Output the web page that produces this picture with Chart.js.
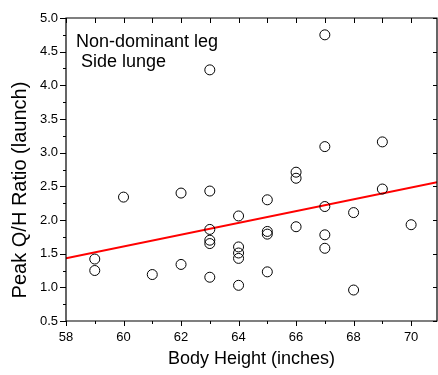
<!DOCTYPE html>
<html>
<head>
<meta charset="utf-8">
<script src="https://cdn.jsdelivr.net/npm/chart.js@4/dist/chart.umd.min.js"></script>
<style>
html,body{margin:0;padding:0;background:#fff;}
#c{display:block;}
</style>
</head>
<body>
<canvas id="c" width="438" height="375"></canvas>
<script>
// ---- data ----
const heights = [59,59,60,61,62,62,63,63,63,63,63,63,64,64,64,64,64,65,65,65,65,66,66,66,67,67,67,67,67,68,68,69,69,70];
const ratios  = [1.42,1.25,2.34,1.19,2.40,1.34,4.23,2.43,1.86,1.70,1.65,1.15,2.06,1.60,1.51,1.43,1.03,2.30,1.83,1.79,1.23,2.71,2.62,1.90,4.75,3.09,2.20,1.78,1.58,2.11,0.96,3.16,2.46,1.93];
const fitX = [58, 70.9];
const fitY = [1.43, 2.56];
const xTickLabels = [58,60,62,64,66,68,70];
const yTickLabels = [0.5,1.0,1.5,2.0,2.5,3.0,3.5,4.0,4.5,5.0];
const annotationLines = ['Non-dominant leg', ' Side lunge'];
const xTitle = 'Body Height (inches)';
const yTitle = 'Peak Q/H Ratio (launch)';

const FONT = '"Liberation Sans", Arial, sans-serif';

const framePlugin = {
  id: 'frame',
  afterDatasetsDraw(chart) {
    const ctx = chart.ctx;
    const a = chart.chartArea;
    const xs = chart.scales.x, ys = chart.scales.y;
    ctx.save();
    ctx.strokeStyle = '#000';
    ctx.lineWidth = 1.2;
    ctx.beginPath();
    ctx.rect(a.left, a.top, a.right - a.left, a.bottom - a.top);
    ctx.stroke();
    ctx.lineWidth = 1;
    ctx.beginPath();
    // bottom (outward) and top (inward) ticks, every inch
    for (let v = xs.min; v <= xs.max + 1e-9; v += 1) {
      const px = Math.round(xs.getPixelForValue(v)) + 0.5;
      const major = xTickLabels.includes(v);
      ctx.moveTo(px, a.bottom); ctx.lineTo(px, a.bottom + (major ? 5 : 3));
      ctx.moveTo(px, a.top); ctx.lineTo(px, a.top + 5);
    }
    // left (outward, major + minor) and right (inward, major) ticks
    for (let i = 0; i <= 18; i++) {
      const v = ys.min + i * 0.25;
      const py = Math.round(ys.getPixelForValue(v)) + 0.5;
      const major = i % 2 === 0;
      ctx.moveTo(a.left, py); ctx.lineTo(a.left - (major ? 6 : 3), py);
      if (major) { ctx.moveTo(a.right, py); ctx.lineTo(a.right - 4, py); }
    }
    ctx.stroke();
    ctx.fillStyle = '#000';
    // annotation text
    ctx.font = '18px ' + FONT;
    ctx.textBaseline = 'alphabetic';
    ctx.textAlign = 'left';
    ctx.fillText(annotationLines[0], 76, 47);
    ctx.fillText(annotationLines[1], 76, 67);
    // y axis title
    ctx.save();
    ctx.translate(20, 190);
    ctx.rotate(-Math.PI / 2);
    ctx.font = '20px ' + FONT;
    ctx.textAlign = 'center';
    ctx.textBaseline = 'middle';
    ctx.fillText(yTitle, 0, 0);
    ctx.restore();
    ctx.restore();
  }
};

new Chart(document.getElementById('c'), {
  type: 'scatter',
  data: {
    datasets: [
      {
        label: 'data',
        data: heights.map((h, i) => ({x: h, y: ratios[i]})),
        pointStyle: 'circle',
        pointRadius: 5,
        pointBorderWidth: 1,
        borderColor: '#000',
        backgroundColor: 'rgba(0,0,0,0)',
        order: 1
      },
      {
        type: 'line',
        label: 'fit',
        data: fitX.map((x, i) => ({x: x, y: fitY[i]})),
        borderColor: '#ff0000',
        borderWidth: 2,
        pointRadius: 0,
        fill: false,
        order: 2
      }
    ]
  },
  options: {
    responsive: false,
    animation: false,
    layout: {autoPadding: false, padding: {top: 18, right: 1, left: 0, bottom: 0}},
    plugins: {legend: {display: false}, tooltip: {enabled: false}},
    scales: {
      x: {
        type: 'linear', min: 58, max: 70.9,
        grid: {display: false, drawTicks: false},
        border: {display: false},
        afterBuildTicks: s => { s.ticks = xTickLabels.map(v => ({value: v})); },
        afterFit: s => { s.height = 54; s.paddingLeft = 0; s.paddingRight = 0; },
        ticks: {font: {size: 13, family: FONT}, color: '#000', padding: 9, maxRotation: 0, callback: v => String(v)},
        title: {display: true, text: xTitle, color: '#000', font: {size: 18, family: FONT}, padding: {top: 0, bottom: 5}}
      },
      y: {
        type: 'linear', min: 0.5, max: 5.0,
        grid: {display: false, drawTicks: false},
        border: {display: false},
        afterBuildTicks: s => { s.ticks = yTickLabels.map(v => ({value: v})); },
        afterFit: s => { s.width = 66; s.paddingTop = 0; s.paddingBottom = 0; },
        ticks: {font: {size: 13, family: FONT}, color: '#000', padding: 8, callback: v => Number(v).toFixed(1)},
        title: {display: false}
      }
    }
  },
  plugins: [framePlugin]
});
</script>
</body>
</html>
